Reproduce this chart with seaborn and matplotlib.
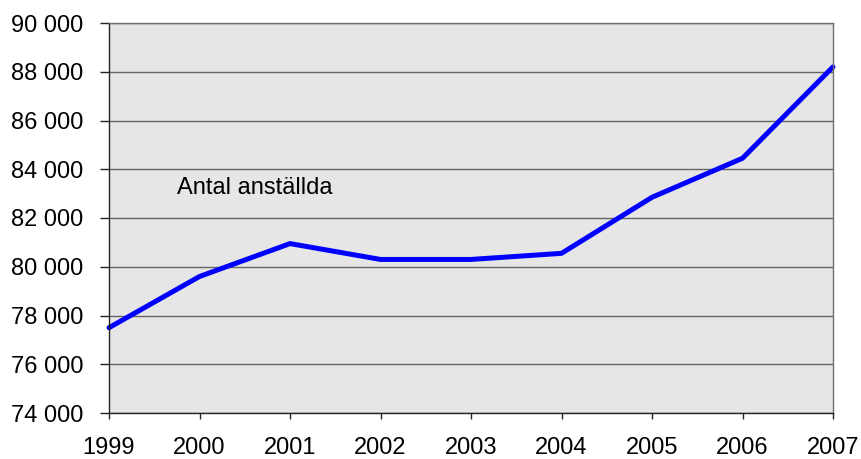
import matplotlib
matplotlib.use("Agg")
import matplotlib.pyplot as plt
import seaborn as sns
import pandas as pd
from matplotlib.ticker import FuncFormatter

years = [1999, 2000, 2001, 2002, 2003, 2004, 2005, 2006, 2007]
employees = [77500, 79600, 80950, 80300, 80300, 80550, 82850, 84450, 88200]
series_label = "Antal anställda"

df = pd.DataFrame({"year": years, "value": employees})

sns.set_style("white")
plt.rcParams['font.family'] = ['Liberation Sans', 'DejaVu Sans']

fig = plt.figure(figsize=(8.62, 4.59), dpi=100)
ax = fig.add_axes([109/862, 1-413/459, (833-109)/862, (413-23)/459])
ax.set_facecolor("#E6E6E6")

sns.lineplot(data=df, x="year", y="value", color="#0000FF", linewidth=3.6, ax=ax,
             solid_capstyle="round", solid_joinstyle="round", clip_on=False)

ax.set_xlim(1999, 2007)
ax.set_ylim(74000, 90000)
ax.set_yticks(range(74000, 90001, 2000))
ax.set_xticks(years)
ax.yaxis.set_major_formatter(FuncFormatter(lambda v, p: f"{int(v):,}".replace(",", " ")))
ax.set_xlabel("")
ax.set_ylabel("")
ax.grid(axis="y", color="#666666", linewidth=1.0)
ax.set_axisbelow(True)

for s in ["top", "right"]:
    ax.spines[s].set_color("#707070")
    ax.spines[s].set_linewidth(1.0)
for s in ["left", "bottom"]:
    ax.spines[s].set_color("#222222")
    ax.spines[s].set_linewidth(1.0)

ax.tick_params(axis="y", direction="out", length=6.5, width=1, color="#222222",
               labelsize=17, pad=12, left=True, labelcolor="black")
ax.tick_params(axis="x", direction="out", length=4.5, width=1, color="#222222",
               labelsize=17, pad=13, bottom=True, labelcolor="black")

ax.text(2000.61, 83250, series_label, fontsize=17, ha="center", va="center", color="black")

fig.savefig("out.png", dpi=100)
